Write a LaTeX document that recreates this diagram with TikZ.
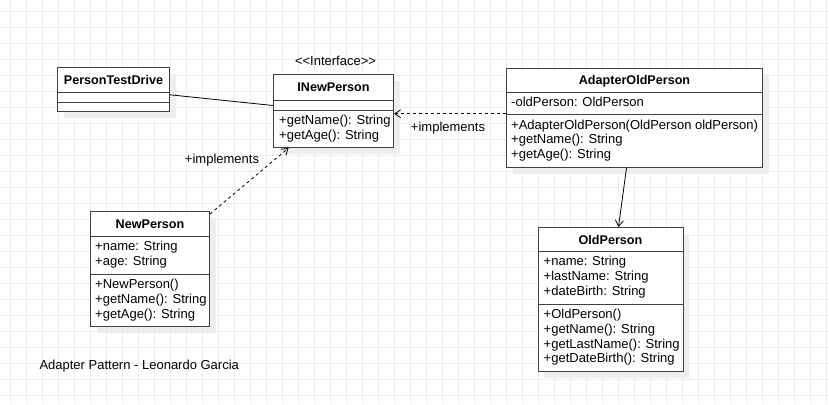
\documentclass[tikz,border=0pt]{standalone}
\usepackage{fontspec}
\newfontfamily\umlfont{Liberation Sans}
\usetikzlibrary{positioning,shadows,arrows.meta}
\newcommand{\umlsize}{\fontsize{12.6pt}{14.8pt}\selectfont}
\newcommand{\membersize}{\fontsize{13pt}{14.8pt}\selectfont}
\tikzset{
  gridline/.style={draw=black!7, line width=1pt},
  classbox/.style={draw=black!75, line width=1pt, fill=white, anchor=north west, inner sep=0pt,
    drop shadow={shadow xshift=6pt, shadow yshift=-6pt, fill=black!7, opacity=1}},
  divider/.style={draw=black!75, line width=1pt},
  title/.style={anchor=base, inner sep=0pt, font={\umlfont\umlsize\bfseries}},
  member/.style={anchor=base west, inner sep=0pt, font={\umlfont\membersize}},
  note/.style={anchor=base, inner sep=0pt, font={\umlfont\membersize}},
  assoc/.style={draw=black, line width=0.8pt},
  navig/.style={assoc, -{Straight Barb[length=6pt,width=8pt]}},
  realize/.style={navig, dash pattern=on 3pt off 3pt}
}

\begin{document}
\begin{tikzpicture}[x=1pt,y=-1pt]
\useasboundingbox (0,0) rectangle (829,404);
\fill[white] (0,0) rectangle (829,404);
\foreach \k in {0,...,51}{
\draw[gridline] ({10+16*\k},0) -- ({10+16*\k},404);
}
\foreach \k in {0,...,24}{
\draw[gridline] (0,{11.5+16*\k}) -- (829,{11.5+16*\k});
}

% PersonTestDrive
\node[classbox, minimum width=112pt, minimum height=44pt] (ptd) at (57,67) {};
\node[title] (ptdname) at ([yshift=-17.3pt]ptd.north) {PersonTestDrive};
\draw[divider] ([yshift=-25pt]ptd.north west) -- ([yshift=-25pt]ptd.north east);
\draw[divider] ([yshift=-35pt]ptd.north west) -- ([yshift=-35pt]ptd.north east);

% INewPerson
\node[classbox, minimum width=120pt, minimum height=73pt] (inew) at (273,74) {};
\node[title] (inewname) at ([yshift=-17.5pt]inew.north) {INewPerson};
\node[note, above=8pt of inew, xshift=2pt] (inewstereo) {<<Interface>>};
\draw[divider] ([yshift=-26pt]inew.north west) -- ([yshift=-26pt]inew.north east);
\draw[divider] ([yshift=-36pt]inew.north west) -- ([yshift=-36pt]inew.north east);
\foreach \t [count=\i] in {+getName(): String, +getAge(): String}{
\node[member] (inewop\i) at ([xshift=6pt, yshift={-(50.5+(\i-1)*14.8)*1pt}]inew.north west) {\t};
}

% AdapterOldPerson
\node[classbox, minimum width=256pt, minimum height=99.5pt] (adp) at (506,67.5) {};
\node[title] (adpname) at ([yshift=-17pt]adp.north) {AdapterOldPerson};
\draw[divider] ([yshift=-24.5pt]adp.north west) -- ([yshift=-24.5pt]adp.north east);
\draw[divider] ([yshift=-47pt]adp.north west) -- ([yshift=-47pt]adp.north east);
\node[member] (adpattr1) at ([xshift=5pt, yshift=-39pt]adp.north west) {-oldPerson: OldPerson};
\foreach \t [count=\i] in {+AdapterOldPerson(OldPerson oldPerson), +getName(): String, +getAge(): String}{
\node[member] (adpop\i) at ([xshift=5pt, yshift={-(61.5+(\i-1)*14.8)*1pt}]adp.north west) {\t};
}

% NewPerson
\node[classbox, minimum width=119pt, minimum height=115pt] (np) at (90,211) {};
\node[title] (npname) at ([yshift=-17pt]np.north) {NewPerson};
\draw[divider] ([yshift=-25pt]np.north west) -- ([yshift=-25pt]np.north east);
\draw[divider] ([yshift=-63pt]np.north west) -- ([yshift=-63pt]np.north east);
\foreach \t [count=\i] in {+name: String, +age: String}{
\node[member] (npattr\i) at ([xshift=5pt, yshift={-(39.5+(\i-1)*14.8)*1pt}]np.north west) {\t};
}
\foreach \t [count=\i] in {+NewPerson(), +getName(): String, +getAge(): String}{
\node[member] (npop\i) at ([xshift=5pt, yshift={-(77.5+(\i-1)*14.8)*1pt}]np.north west) {\t};
}

% OldPerson
\node[classbox, minimum width=145pt, minimum height=144pt] (op) at (537.5,227) {};
\node[title] (opname) at ([yshift=-17.3pt]op.north) {OldPerson};
\draw[divider] ([yshift=-24pt]op.north west) -- ([yshift=-24pt]op.north east);
\draw[divider] ([yshift=-77pt]op.north west) -- ([yshift=-77pt]op.north east);
\foreach \t [count=\i] in {+name: String, +lastName: String, +dateBirth: String}{
\node[member] (opattr\i) at ([xshift=6pt, yshift={-(38.5+(\i-1)*14.8)*1pt}]op.north west) {\t};
}
\foreach \t [count=\i] in {+OldPerson(), +getName(): String, +getLastName(): String, +getDateBirth(): String}{
\node[member] (opop\i) at ([xshift=6pt, yshift={-(91.5+(\i-1)*14.8)*1pt}]op.north west) {\t};
}

% connectors
\draw[assoc] ([yshift=-5.3pt]ptd.east) -- ([yshift=5.5pt]inew.west);
\draw[realize] ([yshift=-3pt]np.north east) -- ([xshift=-45pt]inew.south);
\coordinate (adpin) at ([yshift=4pt]adp.west);
\draw[realize] (adpin) -- (adpin -| inew.east);
\draw[navig] ([xshift=-8pt]adp.south) -- ([xshift=8pt]op.north);

\node[note] (implnp) at (222,163.6) {+implements};
\node[note] (impladp) at (448,131) {+implements};
\node[member] (caption) at (39.3,369.3) {Adapter Pattern - Leonardo Garcia};
\end{tikzpicture}
\end{document}
